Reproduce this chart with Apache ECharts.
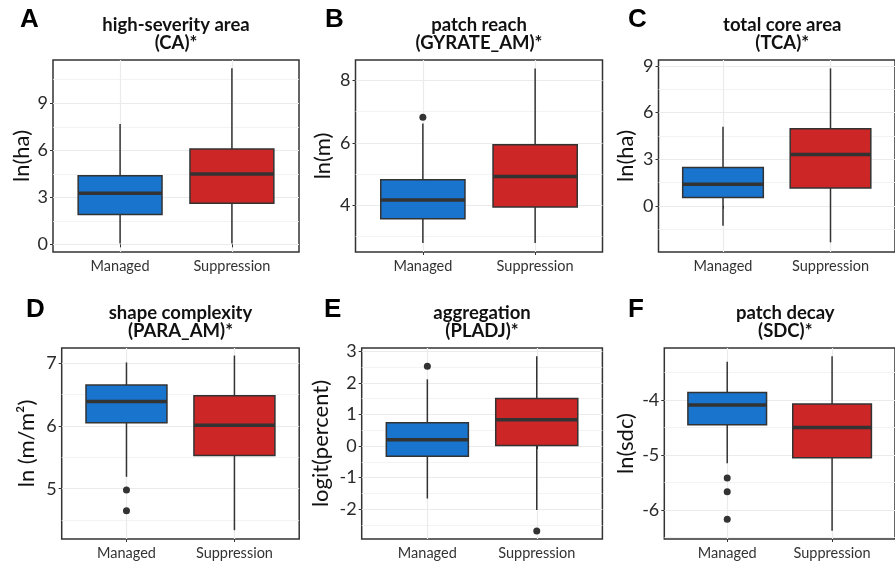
<!DOCTYPE html>
<html>
<head>
<meta charset="utf-8">
<script src="https://cdn.jsdelivr.net/npm/echarts@6/dist/echarts.min.js"></script>
<style>
html, body { margin: 0; padding: 0; background: #fff; }
#main { width: 895px; height: 562px; }
</style>
</head>
<body>
<div id="main"></div>
<script>
const groups = ['Managed', 'Suppression'];

// box stats per group: [lower whisker, Q1, median, Q3, upper whisker]
const caStats = [[0.06, 1.91, 3.26, 4.38, 7.68], [0.06, 2.62, 4.49, 6.08, 11.23]];
const caOutliers = [[], []];
const caTicks = [0, 3, 6, 9];
const caMinor = [1.5, 4.5, 7.5, 10.5];
const caRange = [-0.49, 11.76];

const gyrateStats = [[2.78, 3.56, 4.16, 4.81, 6.62], [2.78, 3.94, 4.92, 5.94, 8.39]];
const gyrateOutliers = [[6.82], []];
const gyrateTicks = [4, 6, 8];
const gyrateMinor = [3, 5, 7];
const gyrateRange = [2.49, 8.66];

const tcaStats = [[-1.28, 0.53, 1.39, 2.46, 5.08], [-2.35, 1.15, 3.3, 4.95, 8.83]];
const tcaOutliers = [[], []];
const tcaTicks = [0, 3, 6, 9];
const tcaMinor = [-1.5, 1.5, 4.5, 7.5];
const tcaRange = [-2.97, 9.37];

const paraStats = [[5.19, 6.05, 6.39, 6.65, 7.01], [4.34, 5.53, 6.01, 6.48, 7.12]];
const paraOutliers = [[4.98, 4.65], []];
const paraTicks = [5, 6, 7];
const paraMinor = [4.5, 5.5, 6.5];
const paraRange = [4.2, 7.24];

const pladjStats = [[-1.66, -0.32, 0.2, 0.74, 2.11], [-2.02, 0.02, 0.83, 1.5, 2.84]];
const pladjOutliers = [[2.52], [-2.69]];
const pladjTicks = [-2, -1, 0, 1, 2, 3];
const pladjMinor = [-2.5, -1.5, -0.5, 0.5, 1.5, 2.5];
const pladjRange = [-2.94, 3.1];

const sdcStats = [[-5.15, -4.45, -4.09, -3.86, -3.3], [-6.38, -5.05, -4.5, -4.07, -3.2]];
const sdcOutliers = [[-5.42, -5.67, -6.17], []];
const sdcTicks = [-6, -5, -4];
const sdcMinor = [-6.5, -5.5, -4.5, -3.5];
const sdcRange = [-6.53, -3.05];

const panels = [
  { letter: 'A', title: 'high-severity area\n(CA)*', yName: 'ln(ha)', stats: caStats, outliers: caOutliers, ticks: caTicks, minor: caMinor, range: caRange },
  { letter: 'B', title: 'patch reach\n(GYRATE_AM)*', yName: 'ln(m)', stats: gyrateStats, outliers: gyrateOutliers, ticks: gyrateTicks, minor: gyrateMinor, range: gyrateRange },
  { letter: 'C', title: 'total core area\n(TCA)*', yName: 'ln(ha)', stats: tcaStats, outliers: tcaOutliers, ticks: tcaTicks, minor: tcaMinor, range: tcaRange },
  { letter: 'D', title: 'shape complexity\n(PARA_AM)*', yName: 'ln (m/m²)', stats: paraStats, outliers: paraOutliers, ticks: paraTicks, minor: paraMinor, range: paraRange },
  { letter: 'E', title: 'aggregation\n(PLADJ)*', yName: 'logit(percent)', stats: pladjStats, outliers: pladjOutliers, ticks: pladjTicks, minor: pladjMinor, range: pladjRange },
  { letter: 'F', title: 'patch decay\n(SDC)*', yName: 'ln(sdc)', stats: sdcStats, outliers: sdcOutliers, ticks: sdcTicks, minor: sdcMinor, range: sdcRange }
];

// layout: [left, top, width, height], letter [x, y], y name gap
const rects = [[53, 60, 246, 192], [355.5, 60, 247, 192], [658.5, 60, 247.5, 192],
               [61.7, 348, 237.5, 191], [361.7, 348, 240.7, 191], [664.3, 348, 242, 191]];
const letterPos = [[20, 7], [325, 7], [628, 7], [26, 297], [324, 297], [628, 297]];
const nameGaps = [20, 22, 22, 24, 30, 27];

const fills = ['#1874cd', '#cd2626'];
const FONT = 'Lato';
const BOX_WIDTH = 0.75;

function renderBox(params, api) {
  const x = api.value(0);
  const lo = api.coord([x, api.value(1)]);
  const q1 = api.coord([x, api.value(2)]);
  const md = api.coord([x, api.value(3)]);
  const q3 = api.coord([x, api.value(4)]);
  const hi = api.coord([x, api.value(5)]);
  const half = api.size([BOX_WIDTH, 0])[0] / 2;
  const ink = '#333';
  return {
    type: 'group',
    children: [
      { type: 'line', shape: { x1: lo[0], y1: lo[1], x2: q1[0], y2: q1[1] }, style: { stroke: ink, lineWidth: 1.5 } },
      { type: 'line', shape: { x1: q3[0], y1: q3[1], x2: hi[0], y2: hi[1] }, style: { stroke: ink, lineWidth: 1.5 } },
      { type: 'rect', shape: { x: q3[0] - half, y: q3[1], width: half * 2, height: q1[1] - q3[1] },
        style: { fill: fills[params.dataIndex], stroke: ink, lineWidth: 1.5 } },
      { type: 'line', shape: { x1: md[0] - half, y1: md[1], x2: md[0] + half, y2: md[1] }, style: { stroke: ink, lineWidth: 3.5 } }
    ]
  };
}

const option = { animation: false, title: [], grid: [], xAxis: [], yAxis: [], series: [] };

panels.forEach((p, i) => {
  const [left, top, width, height] = rects[i];
  option.grid.push({ left: left, top: top, width: width, height: height, show: true, borderColor: '#333', borderWidth: 1.5 });

  option.title.push({
    text: p.letter, left: letterPos[i][0], top: letterPos[i][1], padding: 0,
    textStyle: { fontFamily: 'Liberation Sans', fontSize: 26, fontWeight: 'bold', color: '#000' }
  });
  option.title.push({
    text: p.title, left: left + width / 2, top: top - 44, textAlign: 'center', padding: 0,
    textStyle: { fontFamily: FONT, fontSize: 18.5, fontWeight: 'bold', color: '#111', lineHeight: 18 }
  });

  option.xAxis.push({
    gridIndex: i, type: 'value', min: 0.4, max: 2.6,
    axisLine: { show: false },
    axisTick: { show: true, length: 3, customValues: [1, 2], lineStyle: { color: '#333' } },
    axisLabel: { customValues: [1, 2], formatter: v => groups[Math.round(v) - 1], fontFamily: FONT, fontSize: 14.5, color: '#333', margin: 7 },
    splitLine: { show: true, lineStyle: { color: '#ebebeb', width: 1.2 } }
  });

  option.yAxis.push({
    gridIndex: i, type: 'value', min: p.range[0], max: p.range[1],
    name: p.yName, nameLocation: 'middle', nameGap: nameGaps[i],
    nameTextStyle: { fontFamily: FONT, fontSize: 22, color: '#111' },
    axisLine: { show: false },
    axisTick: { show: true, length: 3, customValues: p.ticks, lineStyle: { color: '#333' } },
    axisLabel: { customValues: p.ticks, fontFamily: FONT, fontSize: 18, color: '#2a2a2a', margin: 5 },
    splitLine: { show: true, lineStyle: { color: '#ebebeb', width: 1.2 } }
  });
  // helper axis for the minor grid lines
  option.yAxis.push({
    gridIndex: i, type: 'value', position: 'right', min: p.range[0], max: p.range[1],
    axisLine: { show: false },
    axisTick: { show: false, customValues: p.minor },
    axisLabel: { show: false },
    splitLine: { show: true, lineStyle: { color: '#f0f0f0', width: 0.8 } }
  });

  option.series.push({
    type: 'custom', xAxisIndex: i, yAxisIndex: 2 * i, z: 3,
    encode: { x: 0, y: [1, 2, 3, 4, 5] },
    data: groups.map((g, k) => [k + 1].concat(p.stats[k])),
    renderItem: renderBox
  });

  const pts = [];
  p.outliers.forEach((vals, k) => vals.forEach(v => pts.push([k + 1, v])));
  option.series.push({
    type: 'scatter', xAxisIndex: i, yAxisIndex: 2 * i, z: 4,
    symbolSize: 7, itemStyle: { color: '#333', opacity: 1 },
    data: pts
  });
});

const chart = echarts.init(document.getElementById('main'));
chart.setOption(option);
</script>
</body>
</html>
